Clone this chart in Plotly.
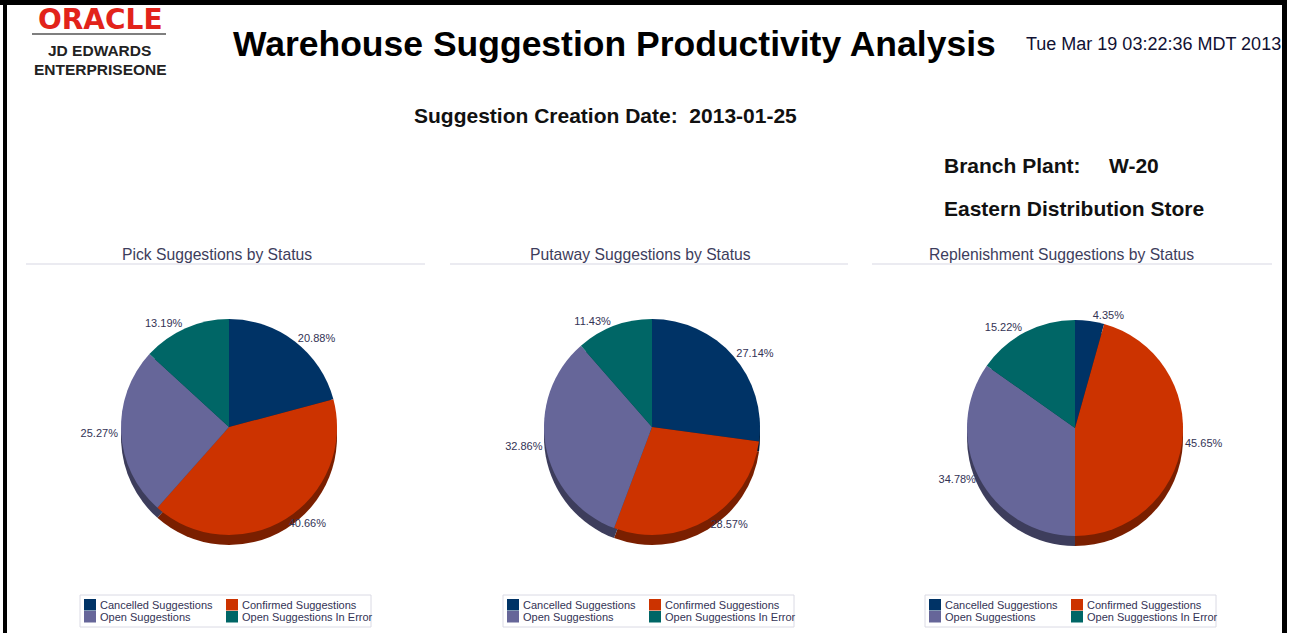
import plotly.graph_objects as go

# ---------------- data ----------------
categories = ["Cancelled Suggestions", "Confirmed Suggestions",
              "Open Suggestions", "Open Suggestions In Error"]
pick_pct = [20.88, 40.66, 25.27, 13.19]
putaway_pct = [27.14, 28.57, 32.86, 11.43]
replen_pct = [4.35, 45.65, 34.78, 15.22]
chart_titles = ["Pick Suggestions by Status", "Putaway Suggestions by Status",
                "Replenishment Suggestions by Status"]
report_title = "Warehouse Suggestion Productivity Analysis"
report_stamp = "Tue Mar 19 03:22:36 MDT 2013"
creation_date_text = "Suggestion Creation Date:  2013-01-25"
branch_label = "Branch Plant:"
branch_code = "W-20"
branch_name = "Eastern Distribution Store"

# ---------------- styles ----------------
colors = ["#003366", "#CC3300", "#666699", "#006666"]
shadow_colors = ["#001A33", "#7A1F00", "#3D3D5C", "#003D3D"]
FONT = "Liberation Sans, Arial, sans-serif"
TXT = "#333355"

W, H = 1293, 633


def px(x):
    return x / W


def py(y):
    return 1 - y / H


series = [pick_pct, putaway_pct, replen_pct]
centers = [(229, 427), (652, 427), (1075, 428)]
R = 108
DEPTH = 10
title_cx = [217, 640, 1061]
rule_x = [(26, 425), (450, 848), (872, 1272)]
legend_x0 = [80, 503, 925]

fig = go.Figure()

# shadow (depth) pies first
for vals, (cx, cy) in zip(series, centers):
    fig.add_trace(go.Pie(
        labels=categories, values=vals, sort=False, direction="clockwise",
        rotation=0, marker=dict(colors=shadow_colors, line=dict(width=0)),
        textinfo="none", hoverinfo="skip", showlegend=False,
        domain=dict(x=[px(cx - R), px(cx + R)],
                    y=[py(cy + R + DEPTH), py(cy - R + DEPTH)]),
    ))

# main pies
for vals, (cx, cy), name in zip(series, centers, chart_titles):
    fig.add_trace(go.Pie(
        name=name, labels=categories, values=vals, sort=False,
        direction="clockwise", rotation=0,
        marker=dict(colors=colors, line=dict(width=0)),
        textposition="outside", texttemplate="%{percent:.2%}",
        textfont=dict(size=11, color=TXT, family=FONT),
        hoverinfo="label+percent", showlegend=False,
        domain=dict(x=[px(cx - R), px(cx + R)],
                    y=[py(cy + R), py(cy - R)]),
    ))

shapes = []
annotations = []

# page border
for (x0, y0, x1, y1) in [(0, 0, 1287, 5), (3, 0, 7, 633), (1282, 0, 1287, 633)]:
    shapes.append(dict(type="rect", xref="paper", yref="paper",
                       x0=px(x0), x1=px(x1), y0=py(y1), y1=py(y0),
                       fillcolor="black", line=dict(width=0), layer="above"))

# logo
annotations.append(dict(text="<b>ORACLE</b>", x=px(100), y=py(19), xref="paper", yref="paper",
                        showarrow=False, xanchor="center", yanchor="middle",
                        font=dict(family="DejaVu Sans, sans-serif", size=28, color="#E2231A")))
shapes.append(dict(type="line", xref="paper", yref="paper",
                   x0=px(32), x1=px(166), y0=py(34), y1=py(34),
                   line=dict(color="#555555", width=1.5)))
annotations.append(dict(text="<b>JD EDWARDS</b>", x=px(99), y=py(50), xref="paper", yref="paper",
                        showarrow=False, xanchor="center", yanchor="middle",
                        font=dict(family=FONT, size=15.5, color="#222222")))
annotations.append(dict(text="<b>ENTERPRISEONE</b>", x=px(100), y=py(70), xref="paper", yref="paper",
                        showarrow=False, xanchor="center", yanchor="middle",
                        font=dict(family=FONT, size=15.5, color="#222222")))

# report title and stamp
annotations.append(dict(text=f"<b>{report_title}</b>", x=px(231), y=py(44), xref="paper", yref="paper",
                        showarrow=False, xanchor="left", yanchor="middle",
                        font=dict(family=FONT, size=35.5, color="#000000")))
annotations.append(dict(text=report_stamp, x=px(1024), y=py(44), xref="paper", yref="paper",
                        showarrow=False, xanchor="left", yanchor="middle",
                        font=dict(family=FONT, size=18, color="#111133")))
annotations.append(dict(text=f"<b>{creation_date_text}</b>", x=px(605), y=py(116), xref="paper", yref="paper",
                        showarrow=False, xanchor="center", yanchor="middle",
                        font=dict(family=FONT, size=21, color="#111111")))
annotations.append(dict(text=f"<b>{branch_label}</b>", x=px(942), y=py(166), xref="paper", yref="paper",
                        showarrow=False, xanchor="left", yanchor="middle",
                        font=dict(family=FONT, size=21, color="#111111")))
annotations.append(dict(text=f"<b>{branch_code}</b>", x=px(1107), y=py(166), xref="paper", yref="paper",
                        showarrow=False, xanchor="left", yanchor="middle",
                        font=dict(family=FONT, size=21, color="#111111")))
annotations.append(dict(text=f"<b>{branch_name}</b>", x=px(942), y=py(208), xref="paper", yref="paper",
                        showarrow=False, xanchor="left", yanchor="middle",
                        font=dict(family=FONT, size=21, color="#111111")))

# chart titles + rules
for t, cx, (rx0, rx1) in zip(chart_titles, title_cx, rule_x):
    annotations.append(dict(text=t, x=px(cx), y=py(254), xref="paper", yref="paper",
                            showarrow=False, xanchor="center", yanchor="middle",
                            font=dict(family=FONT, size=15.7, color="#3D3D5C")))
    shapes.append(dict(type="line", xref="paper", yref="paper",
                       x0=px(rx0), x1=px(rx1), y0=py(264), y1=py(264),
                       line=dict(color="#E4E4EC", width=1.5)))

# legends (one per pie, 2x2 grid)
for x0 in legend_x0:
    shapes.append(dict(type="rect", xref="paper", yref="paper",
                       x0=px(x0), x1=px(x0 + 291), y0=py(627), y1=py(595),
                       line=dict(color="#DADAE4", width=1), fillcolor="rgba(0,0,0,0)"))
    for i, (cat, col) in enumerate(zip(categories, colors)):
        colx = x0 + 4 + (i % 2) * 142
        rowy = 599 + (i // 2) * 12
        shapes.append(dict(type="rect", xref="paper", yref="paper",
                           x0=px(colx), x1=px(colx + 12), y0=py(rowy + 11.5), y1=py(rowy),
                           fillcolor=col, line=dict(width=0)))
        annotations.append(dict(text=cat, x=px(colx + 14), y=py(rowy + 6), xref="paper", yref="paper",
                                showarrow=False, xanchor="left", yanchor="middle",
                                font=dict(family=FONT, size=11, color=TXT)))

fig.update_layout(
    width=W, height=H,
    margin=dict(l=0, r=0, t=0, b=0),
    paper_bgcolor="white", plot_bgcolor="white",
    shapes=shapes, annotations=annotations,
    showlegend=False,
)

fig.write_html("out.html",
               config={"displayModeBar": False},
               post_script="document.body.style.margin='0px';document.body.style.overflow='hidden';")
